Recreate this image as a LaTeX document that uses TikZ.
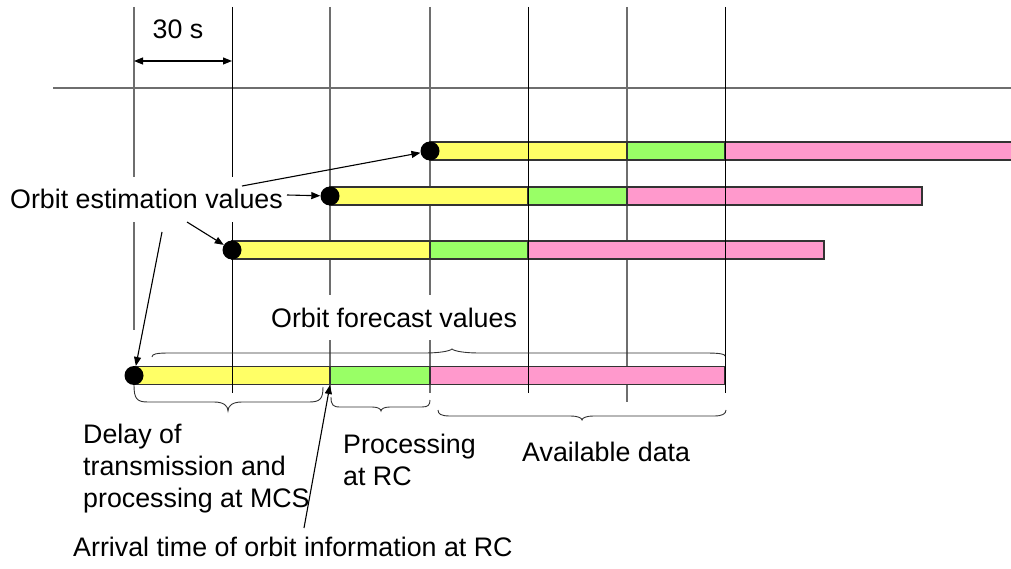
\documentclass[tikz,border=0pt]{standalone}
\usepackage{fontspec}
\setmainfont{Liberation Sans}
\usetikzlibrary{arrows.meta}
\definecolor{baryellow}{HTML}{FFFF66}
\definecolor{bargreen}{HTML}{99FF66}
\definecolor{barpink}{HTML}{FF99CC}
\definecolor{gridgray}{HTML}{6E6E6E}
\definecolor{edgegray}{HTML}{333333}
\begin{document}
\begin{tikzpicture}[x=1pt, y=-1pt,
  font=\fontsize{26.8}{32}\selectfont,
  backline/.style={draw=gridgray, line width=1.3pt},
  frontline/.style={draw=black, line width=1pt},
  seg/.style={draw=edgegray, line width=1.2pt},
  orbitdot/.style={circle, fill=black, minimum size=19pt, inner sep=0pt},
  callout/.style={-{Triangle[length=9pt,width=7pt]}, line width=1.1pt},
  span/.style={{Triangle[length=9pt,width=7pt]}-{Triangle[length=9pt,width=7pt]}, line width=1.1pt},
  brace/.style={draw=edgegray, line width=0.9pt},
  lbl/.style={fill=white, text height=26pt, text depth=7pt, inner xsep=2pt, inner ysep=6pt},
  plain/.style={inner sep=0pt}]
\useasboundingbox (0,0) rectangle (1011,569);

% time axis
\draw[backline, line width=1.2pt] (53,88) -- (1011,88);

% grid lines lying under the bars
\draw[backline] (134,7) -- (134,330);
\foreach \x/\yb in {330/393, 430/393, 627/402}
  \draw[backline] (\x,7) -- (\x,\yb);

% orbit data bars: estimation delay, processing, available data
\foreach \yt/\a/\b/\c/\d in {142/430/627/725/1016, 187/330/528/627/922, 241/232/430/528/824, 366.5/134/330/430/725}{
  \filldraw[seg, fill=baryellow] (\a,\yt) rectangle (\b,\yt+18);
  \filldraw[seg, fill=bargreen]  (\b,\yt) rectangle (\c,\yt+18);
  \filldraw[seg, fill=barpink]   (\c,\yt) rectangle (\d,\yt+18);
}

% grid lines crossing over the bars
\foreach \x in {232, 528, 725}
  \draw[frontline] (\x,7) -- (\x,393);

% labels with white backgrounds
\node[lbl, anchor=base west] (est) at (8,209) {Orbit estimation values};
\node[lbl, anchor=base west] (fc) at (269,327) {Orbit forecast values};

% 30 s interval
\node[plain, anchor=base] (t30) at (178,39) {30 s};
\coordinate (s0) at (134,61);
\coordinate (s1) at (232,61);
\draw[span] (s0) -- (s1);

% estimation epochs
\node[orbitdot] (d1) at (430,151) {};
\node[orbitdot] (d2) at (330,196) {};
\node[orbitdot] (d3) at (232,250) {};
\node[orbitdot] (d4) at (134,375.5) {};

\coordinate (e1) at (242,186);
\coordinate (e2) at (287,195);
\coordinate (e3) at (187,222);
\coordinate (e4) at (162,232);
\draw[callout] (e1) -- (d1);
\draw[callout] (e2) -- (d2);
\draw[callout] (e3) -- (d3);
\draw[callout] (e4) -- (d4);

% braces
\draw[brace] (152,357) .. controls (152,354) and (156,353) .. (170,353) -- (425,353)
  .. controls (440,353) and (450,351) .. (452,349)
  .. controls (454,351) and (464,353) .. (479,353) -- (705,353)
  .. controls (720,353) and (725,354) .. (725,356);
\draw[brace] (134,385) .. controls (134,399) and (137,402) .. (148,402) -- (214,402)
  .. controls (224,402) and (228,406) .. (228,411)
  .. controls (228,406) and (232,402) .. (242,402) -- (309,402)
  .. controls (320,402) and (323,399) .. (323,387);
\draw[brace] (331,397) .. controls (331,405) and (333,407) .. (340,407) -- (372,407)
  .. controls (378,407) and (381,409) .. (381,411)
  .. controls (381,409) and (384,407) .. (390,407) -- (422,407)
  .. controls (428,407) and (430,405) .. (430,400);
\draw[brace] (438,410) .. controls (438,414) and (441,416) .. (450,416) -- (570,416)
  .. controls (578,416) and (582,418) .. (582,420)
  .. controls (582,418) and (586,416) .. (594,416) -- (714,416)
  .. controls (722,416) and (726,414) .. (726,410);

% captions
\node[plain, anchor=north west, align=left] (delay) at (83,423.5) {Delay of\\transmission and\\processing at MCS};
\node[plain, anchor=north west, align=left] (proc) at (343,434) {Processing\\at RC};
\node[plain, anchor=base west] (avail) at (522,461) {Available data};
\node[plain, anchor=base west] (arrival) at (73,556) {Arrival time of orbit information at RC};

\coordinate (a0) at (304,528);
\coordinate (a1) at (330,385);
\draw[callout] (a0) -- (a1);
\end{tikzpicture}
\end{document}
